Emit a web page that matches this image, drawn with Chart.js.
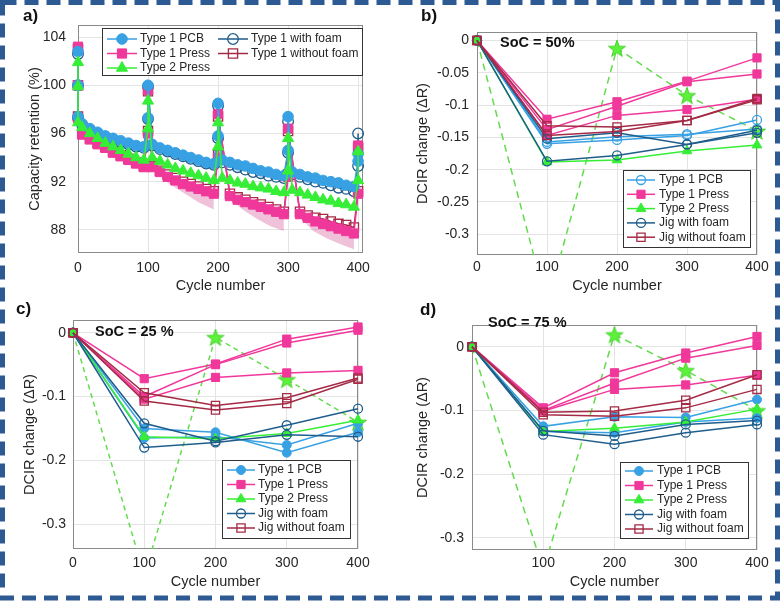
<!DOCTYPE html>
<html>
<head>
<meta charset="utf-8">
<script src="https://cdn.jsdelivr.net/npm/chart.js@4.4.1/dist/chart.umd.min.js"></script>
<style>
  body { margin: 0; background: #fff; }
  #page { position: relative; width: 780px; height: 601px; overflow: hidden; font-family: "Liberation Sans", Arial, sans-serif; }
  canvas { position: absolute; }
  .tag { position: absolute; font-weight: bold; font-size: 17px; line-height: 20px; color: #111; }
  .soc { position: absolute; font-weight: bold; font-size: 14.5px; line-height: 17px; color: #111; white-space: pre; }
  svg { position: absolute; left: 0; top: 0; pointer-events: none; }
</style>
</head>
<body>
<div id="page">
  <canvas id="chartA" width="390" height="300" style="left:0;top:0"></canvas>
  <canvas id="chartB" width="390" height="300" style="left:390px;top:0"></canvas>
  <canvas id="chartC" width="390" height="301" style="left:0;top:300px"></canvas>
  <canvas id="chartD" width="390" height="301" style="left:390px;top:300px"></canvas>

  <div class="tag" style="left:23px;top:6px">a)</div>
  <div class="tag" style="left:421px;top:6px">b)</div>
  <div class="tag" style="left:16px;top:299px">c)</div>
  <div class="tag" style="left:420px;top:300px">d)</div>

  <div class="soc" style="left:500px;top:34px">SoC = 50%</div>
  <div class="soc" style="left:95px;top:323px">SoC = 25 %</div>
  <div class="soc" style="left:488px;top:314px">SoC = 75 %</div>

  <svg width="780" height="601">
    <rect x="2.5" y="2.5" width="775" height="595.5" fill="none" stroke="#2e5a93" stroke-width="5" stroke-dasharray="14 8"/>
  </svg>
</div>

<script>
// ---- panel a: capacity retention ----
const capCycles = [0, 0, 0, 6, 17, 28, 39, 50, 61, 72, 83, 94, 100, 100,
  106, 117, 128, 139, 150, 161, 172, 183, 194, 200, 200,
  206, 217, 228, 239, 250, 261, 272, 283, 294, 300, 300,
  306, 317, 328, 339, 350, 361, 372, 383, 394, 400, 400];
const capPCB = [102.8, 100.0, 97.4, 96.8, 96.4, 96.1, 95.8, 95.6, 95.4, 95.2, 95.0, 94.9, 97.3, 100.0,
  95.1, 94.8, 94.6, 94.4, 94.2, 94.0, 93.8, 93.6, 93.5, 95.8, 98.5,
  93.8, 93.6, 93.4, 93.3, 93.1, 92.9, 92.8, 92.6, 92.5, 94.6, 97.4,
  92.8, 92.6, 92.4, 92.3, 92.1, 92.0, 91.9, 91.7, 91.6, 93.7, 94.3];
const capPress = [103.2, 100.0, 97.3, 95.9, 95.5, 95.1, 94.8, 94.4, 94.1, 93.8, 93.5, 93.2, 96.0, 99.6,
  93.2, 92.8, 92.4, 92.1, 91.8, 91.6, 91.4, 91.2, 91.0, 94.0, 97.6,
  null, 90.8, 90.5, 90.3, 90.1, 89.9, 89.7, 89.5, 89.3, 92.4, 96.4,
  null, 89.3, 89.0, 88.7, 88.5, 88.3, 88.1, 87.9, 87.7, 91.0, 95.0];
const capType2 = [101.9, 99.9, 96.9, 96.5, 96.0, 95.6, 95.2, 94.9, 94.6, 94.3, 94.0, 93.8, 96.4, 98.7,
  94.0, 93.7, 93.4, 93.1, 92.9, 92.7, 92.5, 92.3, 92.1, 94.9, 96.9,
  92.3, 92.1, 91.9, 91.8, 91.6, 91.5, 91.4, 91.2, 91.1, 92.9, 95.6,
  91.3, 91.1, 90.9, 90.7, 90.5, 90.4, 90.2, 90.1, 89.9, 92.1, 94.5];
const capFoam = [102.6, 100.0, 97.3, 96.7, 96.3, 96.0, 95.7, 95.5, 95.3, 95.1, 94.9, 94.8, 97.2, 99.9,
  95.0, 94.7, 94.5, 94.3, 94.1, 93.9, 93.7, 93.5, 93.4, 95.6, 98.3,
  93.6, 93.4, 93.2, 93.0, 92.8, 92.7, 92.5, 92.4, 92.3, 94.4, 97.0,
  92.6, 92.4, 92.2, 92.0, 91.9, 91.7, 91.5, 91.4, 91.2, 93.3, 96.0];
const capNoFoam = [103.0, 100.0, 97.4, 96.0, 95.6, 95.2, 94.9, 94.5, 94.2, 93.9, 93.6, 93.3, 96.2, 99.5,
  93.3, 92.9, 92.6, 92.3, 92.0, 91.8, 91.6, 91.4, 91.2, 94.2, 97.4,
  null, 91.0, 90.7, 90.5, 90.3, 90.1, 89.9, 89.7, 89.5, 92.6, 96.2,
  null, 89.5, 89.2, 89.0, 88.9, 88.7, 88.5, 88.4, 88.2, 91.2, 94.8];

// shaded spread of Type 1 Press, one piece per cycling block
const bandCycles1 = [106, 128, 150, 172, 194];
const bandUpper1 = [93.3, 92.6, 92.0, 91.6, 91.2];
const bandLower1 = [93.0, 91.9, 91.1, 90.3, 89.7];
const bandCycles2 = [217, 237, 256, 275, 294];
const bandUpper2 = [91.0, 90.6, 90.3, 89.9, 89.5];
const bandLower2 = [90.5, 89.6, 88.9, 88.3, 87.9];
const bandCycles3 = [317, 336, 355, 375, 394];
const bandUpper3 = [89.5, 89.1, 88.8, 88.5, 88.2];
const bandLower3 = [89.0, 87.9, 87.3, 86.8, 86.4];

// ---- panels b-d: DCIR change, one array per cell ----
const dcirCycles = [0, 100, 200, 300, 400];

const b_pcb = [[0, -0.160, -0.154, -0.147, -0.123], [0, -0.157, -0.149, -0.145, -0.137]];
const b_press = [[0, -0.122, -0.095, -0.063, -0.027], [0, -0.138, -0.102, -0.064, -0.052], [0, -0.147, -0.116, -0.107, -0.091]];
const b_type2 = [[0, -0.188, -0.185, -0.171, -0.162]];
const b_type2Odd = [0, -0.41, -0.012, -0.085, -0.140];
const b_jigFoam = [[0, -0.187, -0.178, -0.161, -0.143], [0, -0.152, -0.143, -0.161, -0.139]];
const b_jigNoFoam = [[0, -0.132, -0.134, -0.124, -0.090], [0, -0.147, -0.141, -0.124, -0.092]];

const c_pcb = [[0, -0.150, -0.156, -0.188, -0.156], [0, -0.165, -0.163, -0.176, -0.142]];
const c_press = [[0, -0.072, -0.049, -0.010, 0.009], [0, -0.100, -0.050, -0.016, 0.004], [0, -0.104, -0.070, -0.063, -0.059]];
const c_type2 = [[0, -0.163, -0.166, -0.158, -0.137]];
const c_type2Odd = [0, -0.38, -0.007, -0.073, -0.140];
const c_jigFoam = [[0, -0.142, -0.170, -0.145, -0.119], [0, -0.180, -0.172, -0.160, -0.163]];
const c_jigNoFoam = [[0, -0.094, -0.114, -0.102, -0.071], [0, -0.107, -0.121, -0.111, -0.073]];

const d_pcb = [[0, -0.125, -0.110, -0.111, -0.083], [0, -0.133, -0.135, -0.118, -0.112]];
const d_press = [[0, -0.096, -0.041, -0.010, 0.016], [0, -0.100, -0.057, -0.018, 0.002], [0, -0.101, -0.067, -0.060, -0.045]];
const d_type2 = [[0, -0.133, -0.128, -0.118, -0.098]];
const d_type2Odd = [0, -0.35, 0.019, -0.037, -0.100];
const d_jigFoam = [[0, -0.138, -0.153, -0.135, -0.122], [0, -0.132, -0.140, -0.122, -0.116]];
const d_jigNoFoam = [[0, -0.103, -0.101, -0.084, -0.044], [0, -0.107, -0.109, -0.096, -0.067]];

// tick labels
const cycleTicks = [0, 100, 200, 300, 400];
const cycleTicksD = [100, 200, 300, 400];
const capTicks = [88, 92, 96, 100, 104];
const dcirTicksB = [0, -0.05, -0.1, -0.15, -0.2, -0.25, -0.3];
const dcirTicksCD = [0, -0.1, -0.2, -0.3];

const legendA = ['Type 1 PCB', 'Type 1 Press', 'Type 2 Press', 'Type 1 with foam', 'Type 1 without foam'];
const legendBCD = ['Type 1 PCB', 'Type 1 Press', 'Type 2 Press', 'Jig with foam', 'Jig without foam'];

// ---- styling ----
const FONT = '"Liberation Sans", Arial, sans-serif';
const TXT = '#262626';
const C_PCB = '#38a1e4';
const C_PRESS = '#f0389b';
const C_T2 = '#36ee36';
const C_FOAM = '#1e5d8c';
const C_NOFOAM = '#a52a45';
const C_ODD = '#62dc4c';

function st(color, point, r, filled) { return { color: color, point: point, r: r, filled: filled }; }

const aPCB = st(C_PCB, 'circle', 5.3, true);
const aPress = st(C_PRESS, 'rect', 6.5, true);
const aT2 = st(C_T2, 'triangle', 6.4, true);
const aFoam = st(C_FOAM, 'circle', 5.3, false);
const aNoFoam = st(C_NOFOAM, 'rect', 6.5, false);

const sPCBopen = st(C_PCB, 'circle', 4.5, false);
const sPCB = st(C_PCB, 'circle', 4.5, true);
const sPress = st(C_PRESS, 'rect', 5.8, true);
const sT2 = st(C_T2, 'triangle', 5.6, true);
const sFoam = st(C_FOAM, 'circle', 4.5, false);
const sNoFoam = st(C_NOFOAM, 'rect', 5.8, false);

// five-pointed star for the odd Type 2 cell
function makeStar(size) {
  const c = document.createElement('canvas');
  c.width = size; c.height = size;
  const g = c.getContext('2d');
  const R = size / 2 - 1, r = R * 0.4, cx = size / 2, cy = size / 2 + 1;
  g.beginPath();
  for (let i = 0; i < 10; i++) {
    const rad = i % 2 === 0 ? R : r;
    const ang = -Math.PI / 2 + i * Math.PI / 5;
    g.lineTo(cx + rad * Math.cos(ang), cy + rad * Math.sin(ang));
  }
  g.closePath();
  g.fillStyle = '#5cf23a';
  g.fill();
  g.strokeStyle = '#46d02c';
  g.lineWidth = 1;
  g.stroke();
  return c;
}
const starImg = makeStar(20);

const CLIP = { left: 12, right: 12, top: 12, bottom: 0 };

function pts(xs, ys) {
  return xs.map((x, i) => ({ x: x, y: ys[i] }));
}

function line(xs, ys, s, extra) {
  return Object.assign({
    data: pts(xs, ys),
    borderColor: s.color,
    borderWidth: 1.5,
    fill: false,
    pointStyle: s.point,
    pointRadius: s.r,
    pointHoverRadius: s.r,
    pointBorderWidth: s.filled ? 1 : 1.3,
    pointBorderColor: s.color,
    pointBackgroundColor: s.filled ? s.color : 'rgba(0,0,0,0)',
    spanGaps: true,
    clip: CLIP
  }, extra || {});
}

function drawMarker(ctx, s, x, y) {
  ctx.beginPath();
  if (s.point === 'circle') {
    ctx.arc(x, y, s.r, 0, Math.PI * 2);
  } else if (s.point === 'rect') {
    const h = s.r * Math.SQRT1_2;
    ctx.rect(x - h, y - h, 2 * h, 2 * h);
  } else {
    ctx.moveTo(x, y - s.r);
    ctx.lineTo(x + s.r * 0.866, y + s.r / 2);
    ctx.lineTo(x - s.r * 0.866, y + s.r / 2);
    ctx.closePath();
  }
  if (s.filled) { ctx.fillStyle = s.color; ctx.fill(); }
  ctx.lineWidth = s.filled ? 1 : 1.3;
  ctx.strokeStyle = s.color;
  ctx.stroke();
}

// box round the plot area, under the data
const framePlugin = {
  id: 'frame',
  beforeDatasetsDraw(chart) {
    const { ctx, chartArea: a } = chart;
    ctx.save();
    ctx.strokeStyle = '#8a8a8a';
    ctx.lineWidth = 1;
    ctx.strokeRect(a.left + 0.5, a.top + 0.5, a.right - a.left - 1, a.bottom - a.top - 1);
    ctx.restore();
  }
};

// MATLAB-like legend box at a fixed spot
function boxLegend(cfg) {
  return {
    id: 'boxLegend',
    afterDraw(chart) {
      const ctx = chart.ctx;
      const b = cfg.box;
      ctx.save();
      ctx.fillStyle = '#fff';
      ctx.fillRect(b[0], b[1], b[2] - b[0], b[3] - b[1]);
      ctx.strokeStyle = '#333';
      ctx.lineWidth = 1;
      ctx.strokeRect(b[0] + 0.5, b[1] + 0.5, b[2] - b[0], b[3] - b[1]);
      ctx.font = '12px ' + FONT;
      ctx.textBaseline = 'middle';
      cfg.items.forEach(it => {
        ctx.strokeStyle = it.s.color;
        ctx.lineWidth = 1.5;
        ctx.beginPath();
        ctx.moveTo(it.x, it.y);
        ctx.lineTo(it.x + cfg.lineLen, it.y);
        ctx.stroke();
        drawMarker(ctx, it.s, it.x + cfg.lineLen / 2, it.y);
        ctx.fillStyle = TXT;
        ctx.fillText(it.label, it.x + cfg.textGap, it.y);
      });
      ctx.restore();
    }
  };
}

function makePanel(id, geo, layers, xTicks, xMax, yTicks, yMin, yMax, yTitle, legend) {
  // Chart.js paints dataset 0 last (on top), so flip the bottom-to-top list
  const datasets = layers.slice().reverse();
  datasets.forEach(d => {
    if (d.fillWith) { d.fill = datasets.indexOf(d.fillWith); delete d.fillWith; }
  });
  new Chart(document.getElementById(id), {
    type: 'line',
    data: { datasets: datasets },
    options: {
      responsive: false,
      animation: false,
      events: [],
      layout: { padding: { left: 0, top: geo.top, right: geo.right, bottom: 0 } },
      plugins: { legend: { display: false }, tooltip: { enabled: false } },
      scales: {
        x: {
          type: 'linear',
          min: 0,
          max: xMax,
          afterBuildTicks: s => { s.ticks = xTicks.map(v => ({ value: v })); },
          afterFit: s => { s.height = geo.xAxisH; },
          grid: { color: '#e4e4e4', drawTicks: false },
          border: { display: false },
          ticks: { padding: geo.xTickPad, color: TXT, font: { family: FONT, size: 14 }, maxRotation: 0, autoSkip: false, callback: v => String(v) },
          title: { display: true, text: 'Cycle number', color: TXT, font: { family: FONT, size: 14.5 }, padding: { top: 0, bottom: geo.xTitlePad } }
        },
        y: {
          type: 'linear',
          min: yMin,
          max: yMax,
          afterBuildTicks: s => { s.ticks = yTicks.map(v => ({ value: v })); },
          afterFit: s => { s.width = geo.yAxisW; },
          grid: { color: '#e4e4e4', drawTicks: false },
          border: { display: false },
          ticks: { padding: geo.yTickPad, color: TXT, font: { family: FONT, size: 14 }, autoSkip: false, callback: v => String(v) },
          title: { display: true, text: yTitle, color: TXT, font: { family: FONT, size: 14.5 }, padding: { top: geo.yTitlePad, bottom: 0 } }
        }
      }
    },
    plugins: [framePlugin, boxLegend(legend)]
  });
}

// ---- panel a ----
const layersA = [];
[[bandCycles1, bandUpper1, bandLower1], [bandCycles2, bandUpper2, bandLower2], [bandCycles3, bandUpper3, bandLower3]].forEach(p => {
  const up = { data: pts(p[0], p[1]), borderWidth: 0, borderColor: 'rgba(0,0,0,0)', pointRadius: 0, fill: false, clip: CLIP };
  const lo = { data: pts(p[0], p[2]), borderWidth: 0, borderColor: 'rgba(0,0,0,0)', pointRadius: 0,
    backgroundColor: 'rgba(205,70,140,0.33)', fillWith: up, clip: CLIP };
  layersA.push(up, lo);
});
// bottom to top: the open-marker cells sit under the filled ones
layersA.push(line(capCycles, capNoFoam, aNoFoam));
layersA.push(line(capCycles, capFoam, aFoam));
layersA.push(line(capCycles, capPress, aPress));
layersA.push(line(capCycles, capPCB, aPCB));
layersA.push(line(capCycles, capType2, aT2));

makePanel('chartA',
  { top: 25, right: 27, yAxisW: 78, xAxisH: 47, yTitlePad: 26.3, xTitlePad: 5.3, yTickPad: 12, xTickPad: 6.6 },
  layersA, cycleTicks, 407, capTicks, 86.08, 105.0, 'Capacity retention (%)',
  { box: [102, 28, 362, 75], lineLen: 30, textGap: 33, items: [
    { label: legendA[0], s: aPCB, x: 107, y: 39 },
    { label: legendA[1], s: aPress, x: 107, y: 53.5 },
    { label: legendA[2], s: aT2, x: 107, y: 68 },
    { label: legendA[3], s: aFoam, x: 218, y: 39 },
    { label: legendA[4], s: aNoFoam, x: 218, y: 53.5 }
  ] });

// ---- panels b-d ----
function dcirLayers(pcb, press, type2, odd, foam, noFoam, pcbStyle, dash) {
  const L = [];
  L.push(line(dcirCycles, odd, { color: C_ODD, point: starImg, r: 5, filled: true }, {
    borderDash: dash,
    pointRadius: c => (c.dataIndex === 0 ? 0 : 5)
  }));
  pcb.forEach(v => L.push(line(dcirCycles, v, pcbStyle)));
  press.forEach(v => L.push(line(dcirCycles, v, sPress)));
  type2.forEach(v => L.push(line(dcirCycles, v, sT2)));
  foam.forEach(v => L.push(line(dcirCycles, v, sFoam)));
  noFoam.forEach(v => L.push(line(dcirCycles, v, sNoFoam)));
  return L;
}

function legendItems(x, rows, pcbStyle) {
  const styles = [pcbStyle, sPress, sT2, sFoam, sNoFoam];
  return legendBCD.map((t, i) => ({ label: t, s: styles[i], x: x, y: rows[i] }));
}

makePanel('chartB',
  { top: 32, right: 23, yAxisW: 87, xAxisH: 45, yTitlePad: 24.3, xTitlePad: 5.3, yTickPad: 8, xTickPad: 4 },
  dcirLayers(b_pcb, b_press, b_type2, b_type2Odd, b_jigFoam, b_jigNoFoam, sPCBopen, [7, 5]),
  cycleTicks, 400, dcirTicksB, -0.332, 0.013, 'DCIR change (\u0394R)',
  { box: [233, 170, 360, 247], lineLen: 28, textGap: 32, items: legendItems(237, [180, 194.3, 208.6, 222.9, 237.2], sPCBopen) });

makePanel('chartC',
  { top: 20, right: 32, yAxisW: 73, xAxisH: 52, yTitlePad: 21.3, xTitlePad: 10.3, yTickPad: 7, xTickPad: 6 },
  dcirLayers(c_pcb, c_press, c_type2, c_type2Odd, c_jigFoam, c_jigNoFoam, sPCB, [5, 4]),
  cycleTicks, 400, dcirTicksCD, -0.339, 0.020, 'DCIR change (\u0394R)',
  { box: [222, 160, 350, 238], lineLen: 28, textGap: 31, items: legendItems(227, [170, 184.5, 199, 213.5, 228], sPCB) });

makePanel('chartD',
  { top: 25, right: 23, yAxisW: 82, xAxisH: 51, yTitlePad: 24.3, xTitlePad: 10.3, yTickPad: 8, xTickPad: 5 },
  dcirLayers(d_pcb, d_press, d_type2, d_type2Odd, d_jigFoam, d_jigNoFoam, sPCB, [7, 5]),
  cycleTicksD, 400, dcirTicksCD, -0.319, 0.034, 'DCIR change (\u0394R)',
  { box: [230, 162, 358, 238], lineLen: 28, textGap: 32, items: legendItems(235, [171, 185.5, 200, 214.5, 229], sPCB) });
</script>
</body>
</html>
